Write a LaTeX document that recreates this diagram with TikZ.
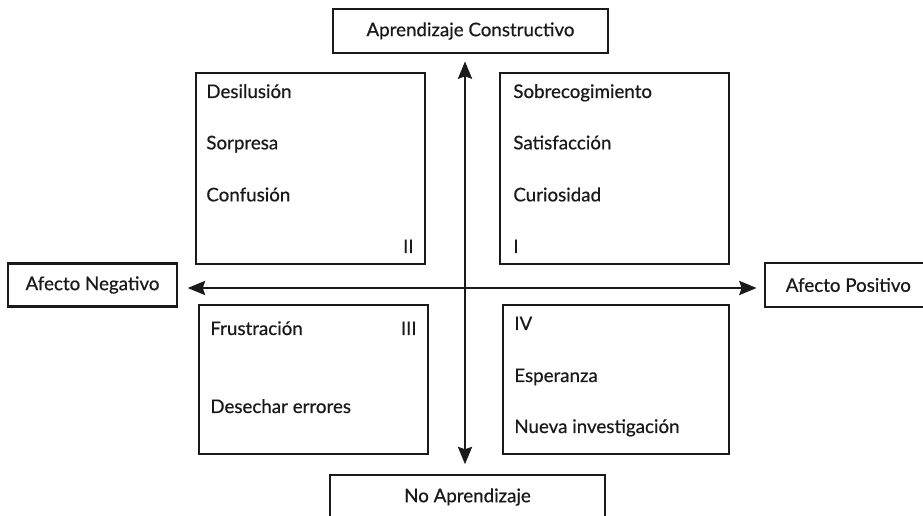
\documentclass[tikz,border=0pt]{standalone}
\usepackage{fontspec}
\setmainfont{Lato}[FakeBold=0.6]
\usetikzlibrary{arrows.meta,positioning}
\definecolor{cInk}{HTML}{1A1A1A}
\tikzset{
  every picture/.style={line width=2.3pt},
  axbox/.style={draw=cInk, align=center, inner sep=2pt, text=cInk,
                font=\fontsize{16pt}{19pt}\selectfont},
  qbox/.style={draw=cInk, minimum width=6.87cm},
  item/.style={anchor=base west, inner sep=0pt, text=cInk,
               font=\fontsize{16pt}{19pt}\selectfont},
  roman/.style={item, anchor=base east},
  dbl/.style={{Stealth[length=5.2mm,width=4.2mm,inset=0.7mm]}-{Stealth[length=5.2mm,width=4.2mm,inset=0.7mm]},
              draw=cInk, line width=2.2pt},
}

\begin{document}
\begin{tikzpicture}[x=1cm,y=1cm]
\useasboundingbox (0,0) rectangle (27.69,15.48);

% ---------------------------------------------------------------- the four ends of the axes
\node[axbox, minimum width=8.25cm, minimum height=1.32cm] (cons) at (14.115,14.55) {Aprendizaje Constructivo};
\node[axbox, minimum width=8.25cm, minimum height=1.32cm] (noap) at (14.025,0.57) {No Aprendizaje};
\node[axbox, minimum width=5.07cm, minimum height=1.29cm] (neg) at (2.775,6.93) {Afecto Negativo};
\node[axbox, minimum width=5.0cm, minimum height=1.32cm] (pos) at (25.45,6.93) {Afecto Positivo};

% ---------------------------------------------------------------- the quadrants
\node[qbox, minimum height=5.73cm] (q2) at (9.315,10.425) {};
\node[qbox, minimum height=5.73cm] (q1) at (18.435,10.425) {};
\node[qbox, minimum height=4.47cm] (q3) at (9.405,4.095) {};
\node[qbox, minimum width=6.78cm, minimum height=4.47cm, line width=1.5pt] (q4) at (18.48,4.095) {};

\foreach \t/\y/\n in {Desilusión/12.54/des, Sorpresa/11.0/sor, Confusión/9.44/conf}
  \node[item] (\n) at (6.15,\y) {\t};
\foreach \t/\y/\n in {Sobrecogimiento/12.54/sob, Satisfacción/11.0/sat, Curiosidad/9.44/cur}
  \node[item] (\n) at (15.36,\y) {\t};
\foreach \t/\y/\n in {Frustración/5.43/fru, Desechar errores/3.09/dese}
  \node[item] (\n) at (6.27,\y) {\t};
\foreach \t/\y/\n in {Esperanza/4.02/esp, Nueva investigación/2.49/nue}
  \node[item] (\n) at (15.39,\y) {\t};

\node[roman] (rII) at (12.45,7.89) {II};
\node[item] (rI) at (15.36,7.89) {I};
\node[roman] (rIII) at (12.54,5.43) {III};
\node[item] (rIV) at (15.39,5.58) {IV};

% ---------------------------------------------------------------- the axes
\coordinate (o) at (13.95,6.84);
\draw[dbl, shorten <=8pt, shorten >=6pt] (neg.east |- o) -- (pos.west |- o);
\draw[dbl, shorten <=6pt, shorten >=8pt] (cons.south -| o) -- (noap.north -| o);

\end{tikzpicture}
\end{document}
